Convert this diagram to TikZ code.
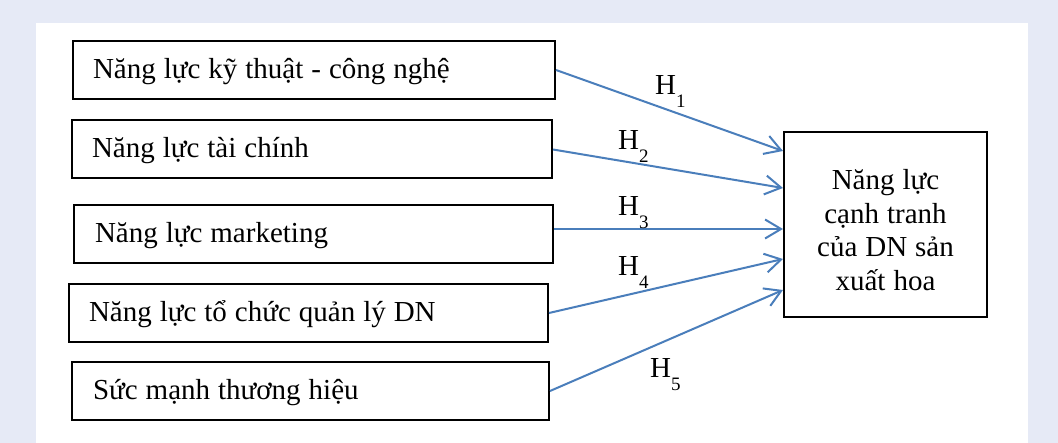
\documentclass[tikz,border=0pt]{standalone}
\usepackage{fontspec}
\setmainfont[WordSpace=1.1]{Liberation Serif}
\usetikzlibrary{arrows.meta,calc}
\definecolor{bgpanel}{RGB}{230,234,246}
\definecolor{arrowblue}{RGB}{74,126,187}
\newcommand\hsub[1]{\raisebox{-13pt}{\fontsize{19pt}{19pt}\selectfont #1}}
\begin{document}
\begin{tikzpicture}[x=1pt,y=-1pt,
  font=\fontsize{29pt}{33.7pt}\selectfont,
  every node/.append style={execute at begin node={\spaceskip=0pt\relax\xspaceskip=0pt\relax}},
  inbox/.style={draw, line width=2pt, inner xsep=20pt, inner ysep=0pt, align=left,
    text height=25pt, text depth=8pt, minimum height=58pt},
  outbox/.style={draw, line width=2pt, inner sep=0pt,
    minimum width=203pt, minimum height=185pt},
  link/.style={draw=arrowblue, line width=2pt,
    -{Straight Barb[length=16pt,width=19pt,line width=2pt]}},
  hlab/.style={anchor=base west, inner sep=0pt}]
\fill[bgpanel] (0,0) rectangle (1058,443);
\fill[white] (36,23) rectangle (1028,443);

\node[inbox, text width=442pt] (b1) at (314,70) {Năng lực kỹ thuật - công nghệ};
\node[inbox, text width=440pt] (b2) at (312,149.5) {Năng lực tài chính};
\node[inbox, text width=437pt, inner xsep=21pt] (b3) at (313.5,234.5) {Năng lực marketing};
\node[inbox, text width=439pt] (b4) at (308.5,313) {Năng lực tổ chức quản lý DN};
\node[inbox, text width=435pt, inner xsep=21pt] (b5) at (310.5,391) {Sức mạnh thương hiệu};

\node[outbox] (big) at (885.5,225)
  {\raisebox{-5pt}[\height][\depth]{\parbox{190pt}{\centering Năng lực\\cạnh tranh\\của DN sản\\xuất hoa}}};

\draw[link] (b1.east) -- ([yshift=74pt]big.west);
\draw[link] (b2.east) -- ([yshift=37pt]big.west);
\draw[link] ([yshift=5.5pt]b3.east) -- ([yshift=-4pt]big.west);
\draw[link] (b4.east) -- ([yshift=-34pt]big.west);
\draw[link] (b5.east) -- ([yshift=-65pt]big.west);

\node[hlab] (h1) at (655,95) {H\hsub{1}};
\node[hlab] (h2) at (618,150) {H\hsub{2}};
\node[hlab] (h3) at (618,216) {H\hsub{3}};
\node[hlab] (h4) at (618,276) {H\hsub{4}};
\node[hlab] (h5) at (650,378) {H\hsub{5}};
\end{tikzpicture}
\end{document}
